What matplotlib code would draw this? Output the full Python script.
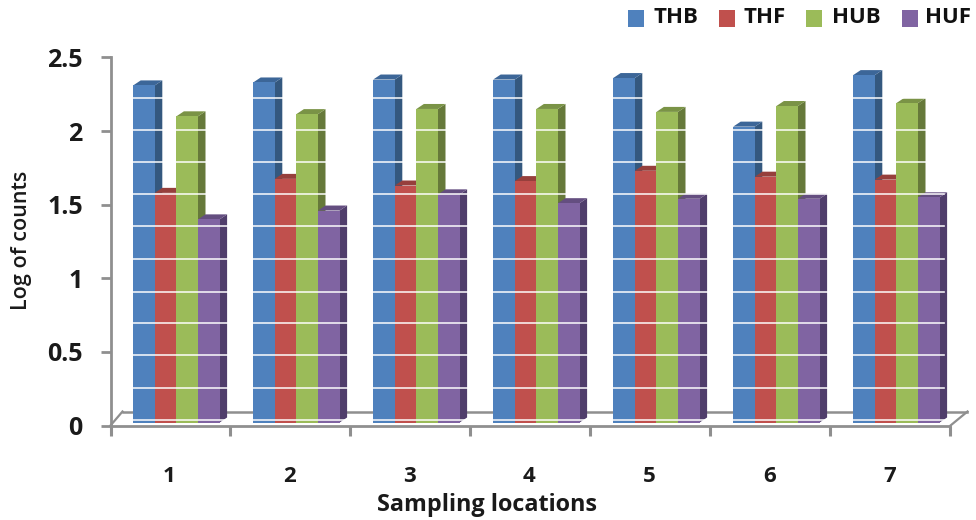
import numpy as np
import matplotlib
matplotlib.use("Agg")
import matplotlib.pyplot as plt
from matplotlib.patches import Rectangle

plt.rcParams['font.family'] = ['Open Sans', 'DejaVu Sans']

categories = ['1', '2', '3', '4', '5', '6', '7']
THB = [2.29, 2.31, 2.33, 2.33, 2.34, 2.01, 2.36]
THF = [1.56, 1.655, 1.61, 1.64, 1.71, 1.67, 1.65]
HUB = [2.08, 2.095, 2.13, 2.13, 2.11, 2.15, 2.17]
HUF = [1.38, 1.44, 1.55, 1.49, 1.52, 1.52, 1.53]
series_names = ['THB', 'THF', 'HUB', 'HUF']
series_values = [THB, THF, HUB, HUF]
front_colors = ['#4f81bd', '#c0504d', '#9bbb59', '#8064a2']
side_colors = ['#34587f', '#853735', '#66793a', '#503e6b']
top_colors = ['#3c6698', '#963f3c', '#7a9346', '#644e80']
yticks = [0, 0.5, 1, 1.5, 2, 2.5]
ytick_labels = ['0', '0.5', '1', '1.5', '2', '2.5']

W, H = 976, 520
fig = plt.figure(figsize=(W / 100, H / 100), dpi=100, facecolor='white')
L, R, B, T = 110.5, 950.5, 425.5, 57.5
ax = fig.add_axes([L / W, 1 - B / H, (R - L) / W, (B - T) / H])
ax.set_xlim(0, 7)
ax.set_ylim(0, 2.5)
ax.patch.set_visible(False)

px = 7 / (R - L)          # one pixel in x data units
py = 2.5 / (B - T)        # one pixel in y data units
base = 3.0 * py           # bars stand a little above the front axis line
bw = 21.6 / 120
shift = 5.9 * px
depth_x, depth_y = 7.5 * px, 5 * py
x0 = np.arange(len(categories)) + 0.5 + shift

grey = '#8f8f8f'
# back edge of the floor
fl = 14 * py
ax.plot([0, 12 * px], [0, fl], color=grey, lw=1.6, clip_on=False, zorder=1)
ax.plot([12 * px, 7 + 17 * px], [fl, fl], color=grey, lw=1.8, clip_on=False, zorder=1)
ax.plot([7, 7 + 17 * px], [0, fl], color=grey, lw=1.6, clip_on=False, zorder=1)

z = 3
for j, (vals, fc, sc, tc) in enumerate(zip(series_values, front_colors, side_colors, top_colors)):
    xl = x0 + (j - 2) * bw
    for x, v in zip(xl, vals):
        top = base + v
        ax.fill([x + bw, x + bw + depth_x, x + bw + depth_x, x + bw],
                [base, base + depth_y, top + depth_y, top], color=sc, lw=0, zorder=z, clip_on=False)
        ax.fill([x, x + depth_x, x + bw + depth_x, x + bw],
                [top, top + depth_y, top + depth_y, top], color=tc, lw=0, zorder=z, clip_on=False)
        ax.bar(x, v, width=bw, bottom=base, align='edge', color=fc, lw=0, zorder=z + 1)
        z += 2

# pale horizontal gridlines of the 3D chart's back wall
grid_levels = [0.034, 0.258, 0.476, 0.693, 0.91, 1.128, 1.352, 1.57, 1.788, 2.005, 2.223, 2.44]
for g in grid_levels:
    ax.plot([0.1, 6.95], [g, g], color='white', lw=1.2, alpha=0.9, zorder=500, clip_on=False)

for s in ['top', 'right']:
    ax.spines[s].set_visible(False)
for s in ['left', 'bottom']:
    ax.spines[s].set_color(grey)
    ax.spines[s].set_linewidth(2.0)
    ax.spines[s].set_zorder(600)
ax.set_xticks(np.arange(8))
ax.set_xticklabels([])
ax.set_yticks(yticks)
ax.set_yticklabels(ytick_labels, fontsize=18, fontweight='bold', color='#1a1a1a')
ax.tick_params(axis='x', length=7, width=2.2, color=grey)
ax.tick_params(axis='y', length=7, width=2.0, color=grey, pad=13)
for i, c in enumerate(categories):
    ax.annotate(c, (i + 0.5, 0), xytext=(-1, -51), textcoords='offset pixels', ha='center', va='center',
                fontsize=16, fontweight='bold', color='#1a1a1a')

fig.text(487 / W, 1 - 505 / H, 'Sampling locations', ha='center', va='center',
         fontsize=16.8, fontweight='bold', color='#1a1a1a')
fig.text(22 / W, 1 - 240 / H, 'Log of counts', ha='center', va='center', rotation=90,
         fontsize=15.5, fontweight='semibold', color='#1a1a1a')

# legend row
legend_boxes = [628, 719, 806, 902]
legend_text = [654, 743, 832, 925]
for name, fc, bx, tx in zip(series_names, front_colors, legend_boxes, legend_text):
    fig.add_artist(Rectangle((bx / W, 1 - 27 / H), 15.5 / W, 17.5 / H, transform=fig.transFigure,
                             facecolor=fc, edgecolor='none'))
    fig.text(tx / W, 1 - 17.5 / H, name, ha='left', va='center', fontsize=16,
             fontweight='bold', color='#111111')

fig.savefig('out.png', dpi=100)
